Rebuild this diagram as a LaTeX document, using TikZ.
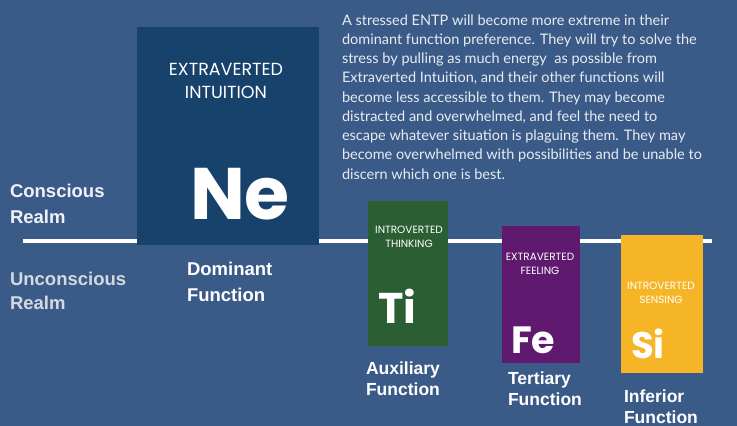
\documentclass[tikz,border=0pt]{standalone}
\usepackage{fontspec}
\setmainfont{Liberation Sans}
\newfontfamily\popfont{Poppins}
\newfontfamily\bodyfont{Lato}
\definecolor{bgBlue}{RGB}{58,90,135}
\definecolor{neBlue}{RGB}{23,66,107}
\definecolor{tiGreen}{RGB}{43,95,51}
\definecolor{fePurple}{RGB}{95,26,112}
\definecolor{siYellow}{RGB}{245,181,38}
\definecolor{realmWhite}{RGB}{240,242,245}
\definecolor{realmGray}{RGB}{212,216,224}
\definecolor{bodyGray}{RGB}{232,236,242}

\begin{document}
\begin{tikzpicture}[x=1pt,y=-1pt,
    every node/.style={inner sep=0pt,outer sep=0pt},
    fbox/.style={anchor=north west,draw=none},
    % caption inside a box (anchored at its last baseline)
    fname/.style 2 args={anchor=base,align=center,text=white,font=\popfont\fontsize{#1}{#2}\selectfont},
    % big two letter code
    fcode/.style={anchor=base west,text=white,font=\popfont\bfseries\fontsize{#1}{#1}\selectfont},
    % label below a box
    frole/.style={anchor=base west,align=left,text=white,font=\bfseries\fontsize{17.5}{21}\selectfont},
]
% background
\fill[bgBlue] (0,0) rectangle (737,426);
\useasboundingbox (0,0) rectangle (737,426);

% draw horizontal line
\coordinate (lineL) at (23,241);
\coordinate (lineR) at (712,241);
\draw[white,line width=4] (lineL) -- (lineR);

% place boxes
\node[fbox,fill=neBlue,minimum width=182,minimum height=218] (ne) at (137,27) {};
\node[fbox,fill=tiGreen,minimum width=80,minimum height=145] (ti) at (368,201) {};
\node[fbox,fill=fePurple,minimum width=78,minimum height=137] (fe) at (502,226) {};
\node[fbox,fill=siYellow,minimum width=82,minimum height=138] (si) at (621,235) {};

% place function names
\node[fname={17.5}{23}] (neName) at (226,98) {EXTRAVERTED\\INTUITION};
\node[fname={10.5}{14}] (tiName) at (409,247) {INTROVERTED\\THINKING};
\node[fname={10.5}{14}] (feName) at (540,274) {EXTRAVERTED\\FEELING};
\node[fname={10.5}{14}] (siName) at (661,303) {INTROVERTED\\SENSING};

% place codes
\node[fcode=73] (neCode) at (190,219) {Ne};
\node[fcode=43] (tiCode) at (378,323) {Ti};
\node[fcode=38] (feCode) at (511,353) {Fe};
\node[fcode=37] (siCode) at (631,358) {Si};

% place roles
\node[frole,font=\bfseries\fontsize{18.5}{26}\selectfont] (neRole) at (187,301) {Dominant\\Function};
\node[frole] (tiRole) at (366,395) {Auxiliary\\Function};
\node[frole] (feRole) at (508,405) {Tertiary\\Function};
\node[frole] (siRole) at (624,423) {Inferior\\Function};

% place realm labels
\node[frole,text=realmWhite,font=\bfseries\fontsize{18.5}{26}\selectfont] (conscious) at (10,223) {Conscious\\Realm};
\node[frole,text=realmGray,font=\bfseries\fontsize{18.5}{24}\selectfont] (unconscious) at (10,309) {Unconscious\\Realm};

% place description
\node[anchor=base west,align=left,text=bodyGray,font=\bodyfont\fontsize{14.5}{19.25}\selectfont] (story) at (342,179) {%
A stressed ENTP will become more extreme in their\\
dominant function preference. They will try to solve the\\
stress by pulling as much energy \ as possible from\\
Extraverted Intuition, and their other functions will\\
become less accessible to them. They may become\\
distracted and overwhelmed, and feel the need to\\
escape whatever situation is plaguing them. They may\\
become overwhelmed with possibilities and be unable to\\
discern which one is best.};

\end{tikzpicture}
\end{document}
